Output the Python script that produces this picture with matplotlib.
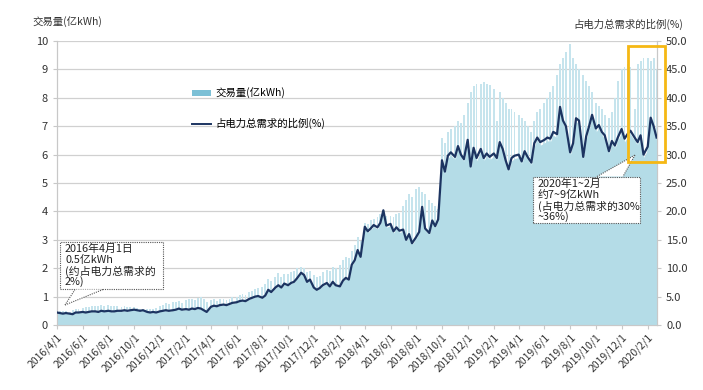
import matplotlib
matplotlib.use("Agg")
import matplotlib.pyplot as plt
from matplotlib.patches import Rectangle, Polygon, Patch
from matplotlib.lines import Line2D
import pandas as pd

plt.rcParams['font.family'] = ['Noto Sans CJK SC', 'DejaVu Sans']

# four readings per month (day 1, 8, 15, 22), 2016/4 .. 2020/2
months = pd.date_range('2016-04-01', '2020-02-01', freq='MS')
offsets = [0, 7, 14, 21]

# share of total demand (%)
ratio = [
    2.2, 2.1, 2.0, 2.1,     2.0, 1.9, 2.2, 2.2,     2.3, 2.2, 2.3, 2.4,
    2.4, 2.3, 2.5, 2.4,     2.5, 2.4, 2.4, 2.5,     2.5, 2.6, 2.5, 2.6,
    2.7, 2.6, 2.5, 2.6,     2.3, 2.2, 2.3, 2.2,     2.4, 2.5, 2.6, 2.5,
    2.6, 2.7, 2.9, 2.7,     2.8, 2.7, 2.9, 2.8,     3.0, 2.9, 2.6, 2.3,
    3.2, 3.4, 3.3, 3.5,     3.6, 3.5, 3.7, 3.9,     4.0, 4.2, 4.3, 4.2,
    4.6, 4.8, 5.0, 5.1,     4.8, 5.2, 6.2, 5.8,     6.6, 7.0, 6.6, 7.3,
    7.0, 7.4, 7.6, 8.2,     9.2, 8.8, 7.6, 8.0,     6.6, 6.2, 6.5, 7.0,
    7.4, 6.8, 7.6, 7.0,     6.8, 7.8, 8.3, 8.0,     10.6, 11.4, 13.2, 12.0,
    17.3, 16.5, 17.0, 17.6, 17.2, 18.0, 20.2, 17.5, 17.8, 16.5, 17.2, 16.6,
    16.8, 15.0, 16.0, 14.4, 15.5, 16.4, 20.8, 17.0, 16.2, 18.4, 17.4, 18.6,
    29.0, 27.0, 29.8, 30.4, 29.6, 31.5, 30.0, 29.2, 32.6, 27.9, 31.2, 29.4,
    31.0, 29.4, 30.2, 29.6, 30.2, 29.4, 32.2, 31.0, 29.0, 27.4, 29.4, 29.8,
    30.0, 28.8, 30.6, 29.6, 28.6, 32.0, 33.0, 32.2, 32.6, 33.0, 32.8, 34.0,
    33.6, 38.4, 36.0, 35.0, 30.4, 32.0, 36.4, 36.0, 29.6, 33.2, 35.0, 37.0,
    34.6, 35.2, 34.0, 33.4, 30.6, 32.4, 31.6, 33.0, 34.5, 32.8, 33.6, 34.2,
    33.0, 32.2, 33.4, 30.0, 31.4, 36.5, 35.0, 33.0,
]

# trading volume (亿kWh): daily low (weekend level) and weekly peak
vol_low = [
    0.44, 0.42, 0.40, 0.42, 0.40, 0.38, 0.43, 0.44, 0.45, 0.44, 0.46, 0.47,
    0.47, 0.46, 0.49, 0.47, 0.49, 0.47, 0.47, 0.49, 0.49, 0.51, 0.49, 0.51,
    0.53, 0.51, 0.49, 0.51, 0.45, 0.43, 0.45, 0.43, 0.47, 0.49, 0.51, 0.49,
    0.51, 0.53, 0.57, 0.53, 0.55, 0.53, 0.57, 0.55, 0.59, 0.57, 0.51, 0.45,
    0.63, 0.67, 0.65, 0.69, 0.71, 0.69, 0.73, 0.77, 0.79, 0.83, 0.85, 0.83,
    0.91, 0.95, 0.99, 1.01, 0.95, 1.03, 1.22, 1.14, 1.30, 1.38, 1.30, 1.44,
    1.38, 1.46, 1.50, 1.62, 1.80, 1.73, 1.50, 1.58, 1.30, 1.22, 1.28, 1.38,
    1.46, 1.34, 1.50, 1.38, 1.34, 1.54, 1.63, 1.58, 2.08, 2.24, 2.60, 2.36,
    3.40, 3.24, 3.35, 3.46, 3.38, 3.54, 3.97, 3.44, 3.50, 3.24, 3.38, 3.26,
    3.30, 2.95, 3.15, 2.83, 3.05, 3.22, 4.09, 3.34, 3.18, 3.62, 3.42, 3.66,
    5.70, 5.30, 5.86, 5.98, 5.82, 6.19, 5.90, 5.74, 6.41, 5.48, 6.13, 5.78,
    6.09, 5.78, 5.94, 5.82, 5.94, 5.78, 6.33, 6.09, 5.70, 5.38, 5.78, 5.86,
    5.90, 5.66, 6.01, 5.82, 5.62, 6.29, 6.49, 6.33, 6.41, 6.49, 6.45, 6.68,
    6.60, 7.55, 7.08, 6.88, 5.98, 6.29, 7.16, 7.08, 5.82, 6.53, 6.88, 7.27,
    6.80, 6.92, 6.68, 6.57, 6.02, 6.37, 6.21, 6.49, 6.78, 6.45, 6.61, 6.72,
    6.49, 6.33, 6.57, 5.90, 6.17, 7.17, 6.88, 6.49,
]
vol_high = [
    0.52, 0.50, 0.48, 0.50, 0.46, 0.52, 0.55, 0.56, 0.60, 0.62, 0.65, 0.66,
    0.68, 0.66, 0.70, 0.66, 0.70, 0.68, 0.66, 0.68, 0.64, 0.66, 0.62, 0.64,
    0.62, 0.60, 0.58, 0.58, 0.56, 0.55, 0.58, 0.60, 0.68, 0.72, 0.78, 0.74,
    0.80, 0.82, 0.86, 0.78, 0.88, 0.90, 0.92, 0.88, 0.95, 0.98, 0.92, 0.80,
    0.88, 0.90, 0.86, 0.92, 0.90, 0.88, 0.92, 0.98, 1.00, 1.04, 1.08, 1.06,
    1.15, 1.20, 1.28, 1.30, 1.35, 1.45, 1.62, 1.55, 1.70, 1.82, 1.68, 1.80,
    1.80, 1.86, 1.90, 2.00, 2.05, 2.02, 1.88, 1.90, 1.75, 1.70, 1.72, 1.85,
    1.95, 1.90, 2.05, 2.00, 2.10, 2.30, 2.40, 2.35, 2.60, 2.80, 3.10, 2.95,
    3.60, 3.55, 3.70, 3.75, 3.80, 3.90, 4.00, 3.85, 3.85, 3.80, 3.90, 3.95,
    4.20, 4.40, 4.60, 4.50, 4.80, 4.85, 4.70, 4.60, 4.40, 4.30, 4.20, 4.10,
    6.60, 6.40, 6.80, 6.90, 7.00, 7.20, 7.10, 7.40, 7.80, 8.20, 8.40, 8.50,
    8.50, 8.55, 8.50, 8.45, 8.30, 7.20, 8.20, 8.00, 7.80, 7.60, 7.60, 7.50,
    7.40, 7.30, 7.20, 7.00, 6.80, 7.20, 7.50, 7.60, 7.80, 8.00, 8.20, 8.40,
    8.80, 9.20, 9.40, 9.60, 9.90, 9.40, 9.20, 9.00, 8.80, 8.60, 8.40, 8.20,
    7.80, 7.70, 7.60, 7.40, 7.30, 7.50, 8.00, 8.60, 9.00, 9.10, 9.20, 9.10,
    7.60, 9.20, 9.30, 9.40, 9.40, 9.30, 9.40, 9.00,
]

dates = [m + pd.Timedelta(days=o) for m in months for o in offsets]
tick_dates = pd.date_range('2016-04-01', '2020-02-01', freq='2MS')
tick_labels = [f"{d.year}/{d.month}/1" for d in tick_dates]

fill_color = '#b4dce7'
spike_color = '#c6e4ed'
line_color = '#1c3461'
grid_color = '#d0d0d0'

W, H = 703, 390
fig = plt.figure(figsize=(W / 100, H / 100), dpi=100)
ax = fig.add_axes([57 / W, 1 - 325 / H, 600 / W, 284 / H])
ax2 = ax.twinx()

ax.bar(dates, vol_high, width=4.5, color=spike_color, linewidth=0, zorder=2)
ax.fill_between(dates, 0, vol_low, color=fill_color, linewidth=0, zorder=3)
ax2.plot(dates, ratio, color=line_color, lw=1.6, zorder=4)

ax.set_xlim(pd.Timestamp('2016-04-01'), pd.Timestamp('2020-02-23'))
ax.set_ylim(0, 10)
ax2.set_ylim(0, 50)
ax.set_yticks(range(0, 11))
ax2.set_yticks(range(0, 51, 5))
ax2.set_yticklabels([f"{v:.1f}" for v in range(0, 51, 5)])
ax.set_xticks(tick_dates)
ax.set_xticklabels(tick_labels, rotation=45, ha='right', rotation_mode='anchor')

ax.set_axisbelow(True)
ax.grid(axis='y', color=grid_color, lw=0.9, zorder=0)
for a in (ax, ax2):
    a.spines['top'].set_visible(False)
    for s in ('left', 'right', 'bottom'):
        a.spines[s].set_color('#c8c8c8')
    a.tick_params(colors='#333333', labelsize=8, length=3, width=0.8)
    a.tick_params(axis='y', colors='#c8c8c8', labelcolor='#333333')
ax.tick_params(axis='x', colors='#c8c8c8', labelcolor='#333333', labelsize=7.5, pad=2)

fig.text(32 / W, 1 - 22 / H, '交易量(亿kWh)', fontsize=7.5, color='#333333', va='center')
fig.text(683 / W, 1 - 24 / H, '占电力总需求的比例(%)', fontsize=7.5, color='#333333',
         va='center', ha='right')

handles = [Patch(facecolor='#7cc0d6', edgecolor='none'),
           Line2D([], [], color=line_color, lw=1.4)]
fig.legend(handles, ['交易量(亿kWh)', '占电力总需求的比例(%)'],
           loc='upper left', bbox_to_anchor=(183 / W, 1 - 78 / H), frameon=False,
           fontsize=7.5, handlelength=1.8, handleheight=0.5, labelspacing=1.9,
           handletextpad=0.4)


def fx(x):
    return x / W


def fy(y):
    return 1 - y / H


def callout(x0, y0, x1, y1, wedge, lines):
    fig.patches.append(Rectangle((fx(x0), fy(y1)), fx(x1 - x0), (y1 - y0) / H,
                                 transform=fig.transFigure, facecolor='white',
                                 edgecolor='#555555', lw=0.8, ls=(0, (1, 1)), zorder=5))
    pts = [(fx(px), fy(py)) for px, py in wedge]
    fig.patches.append(Polygon(pts, closed=True, transform=fig.transFigure,
                               facecolor='white', edgecolor='none', zorder=6))
    for a, b in ((wedge[0], wedge[1]), (wedge[1], wedge[2])):
        fig.lines.append(Line2D([fx(a[0]), fx(b[0])], [fy(a[1]), fy(b[1])],
                                transform=fig.transFigure, color='#555555',
                                lw=0.8, ls=(0, (1, 1)), zorder=7))
    # one text per line so the line pitch stays fixed
    for i, s in enumerate(lines):
        fig.text(fx(x0 + 5), fy(y0 + 7 + i * 11), s, fontsize=7.8, color='#222222',
                 va='center', ha='left', zorder=8)


callout(60, 242, 163, 289, [(75, 289.5), (65, 305), (103, 289.5)],
        ['2016年4月1日', '0.5亿kWh', '(约占电力总需求的', '2%)'])
callout(533, 177, 640, 223, [(597, 176.5), (635, 155), (623, 176.5)],
        ['2020年1~2月', '约7~9亿kWh', '(占电力总需求的30%', '~36%)'])

fig.patches.append(Rectangle((fx(628), fy(162)), fx(37), 116 / H,
                             transform=fig.transFigure, facecolor='none',
                             edgecolor='#f5b814', lw=2, zorder=9))

fig.savefig('out.png', dpi=100)
